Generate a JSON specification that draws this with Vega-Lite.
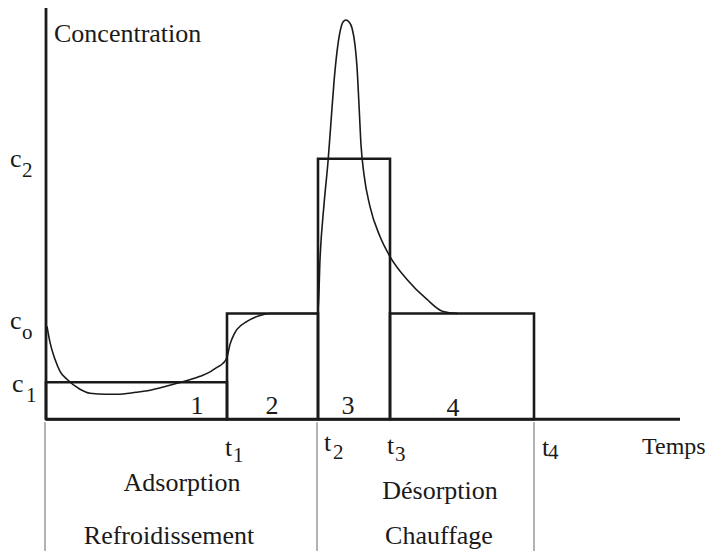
{
  "$schema": "https://vega.github.io/schema/vega-lite/v6.json",
  "width": 707,
  "height": 552,
  "autosize": {"type": "fit", "contains": "padding"},
  "padding": 0,
  "background": "white",
  "config": {"view": {"stroke": null}},
  "datasets": {
    "segments": [
      {"t": 0, "c": 0, "tEnd": 0, "cEnd": 412, "kind": "axis"},
      {"t": 0, "c": 0, "tEnd": 634, "cEnd": 0, "kind": "axis"},
      {"t": -1, "c": -3, "tEnd": -1, "cEnd": -132, "kind": "guide"},
      {"t": 271, "c": -3, "tEnd": 271, "cEnd": -132, "kind": "guide"},
      {"t": 488, "c": -3, "tEnd": 488, "cEnd": -132, "kind": "guide"}
    ],
    "steps": [
      {"t": 0, "tEnd": 181, "c": 37, "c0": 0},
      {"t": 181, "tEnd": 272, "c": 106, "c0": 0},
      {"t": 272, "tEnd": 344, "c": 261, "c0": 0},
      {"t": 344, "tEnd": 488, "c": 106, "c0": 0}
    ],
    "curve": [
      {"t": 1, "c": 93}, {"t": 4, "c": 77}, {"t": 9, "c": 60}, {"t": 14, "c": 48},
      {"t": 21, "c": 40}, {"t": 34, "c": 30}, {"t": 44, "c": 26}, {"t": 60, "c": 25},
      {"t": 71, "c": 25}, {"t": 90, "c": 27}, {"t": 104, "c": 29}, {"t": 120, "c": 33},
      {"t": 131, "c": 36}, {"t": 154, "c": 43}, {"t": 165, "c": 48}, {"t": 171, "c": 52},
      {"t": 177, "c": 56}, {"t": 181, "c": 62}, {"t": 184, "c": 75}, {"t": 188, "c": 85},
      {"t": 191, "c": 90}, {"t": 201, "c": 98}, {"t": 214, "c": 104}, {"t": 224, "c": 106},
      {"t": 250, "c": 106}, {"t": 272, "c": 106}, {"t": 274, "c": 160}, {"t": 278, "c": 215},
      {"t": 282, "c": 258}, {"t": 285, "c": 298}, {"t": 288, "c": 338}, {"t": 291, "c": 368},
      {"t": 294, "c": 388}, {"t": 297, "c": 398}, {"t": 300, "c": 400}, {"t": 303, "c": 398},
      {"t": 306, "c": 392}, {"t": 309, "c": 375}, {"t": 311, "c": 353}, {"t": 313, "c": 315},
      {"t": 315, "c": 275}, {"t": 318, "c": 245}, {"t": 324, "c": 213}, {"t": 334, "c": 183},
      {"t": 344, "c": 163}, {"t": 361, "c": 140}, {"t": 381, "c": 120}, {"t": 397, "c": 108},
      {"t": 412, "c": 106}
    ],
    "labels": [
      {"t": 8, "c": 378, "text": "Concentration", "kind": "mainL"},
      {"t": -36, "c": 253, "text": "c", "kind": "mainL"},
      {"t": -36, "c": 90, "text": "c", "kind": "mainL"},
      {"t": -34, "c": 27, "text": "c", "kind": "mainL"},
      {"t": 179, "c": -37, "text": "t", "kind": "mainL"},
      {"t": 278, "c": -32, "text": "t", "kind": "mainL"},
      {"t": 341, "c": -35, "text": "t", "kind": "mainL"},
      {"t": 496, "c": -37, "text": "t", "kind": "mainL"},
      {"t": 596, "c": -35, "text": "Temps", "kind": "temps"},
      {"t": -24, "c": 243, "text": "2", "kind": "sub"},
      {"t": -24, "c": 80, "text": "o", "kind": "sub"},
      {"t": -20, "c": 17, "text": "1", "kind": "sub"},
      {"t": 187, "c": -43, "text": "1", "kind": "sub"},
      {"t": 287, "c": -40, "text": "2", "kind": "sub"},
      {"t": 349, "c": -42, "text": "3", "kind": "sub"},
      {"t": 502, "c": -40, "text": "4", "kind": "sub"},
      {"t": 151, "c": 5, "text": "1", "kind": "mainC"},
      {"t": 226, "c": 5, "text": "2", "kind": "mainC"},
      {"t": 302, "c": 5, "text": "3", "kind": "mainC"},
      {"t": 407, "c": 3, "text": "4", "kind": "mainC"},
      {"t": 136, "c": -72, "text": "Adsorption", "kind": "mainC"},
      {"t": 123, "c": -125, "text": "Refroidissement", "kind": "mainC"},
      {"t": 394, "c": -80, "text": "Désorption", "kind": "mainC"},
      {"t": 393, "c": -125, "text": "Chauffage", "kind": "mainC"}
    ]
  },
  "layer": [
    {
      "data": {"name": "segments"},
      "transform": [{"filter": "datum.kind === 'guide'"}],
      "mark": {"type": "rule", "stroke": "#666", "strokeWidth": 1},
      "encoding": {
        "x": {"field": "t", "type": "quantitative", "scale": {"domain": [-46, 661], "nice": false, "zero": false}, "axis": null},
        "y": {"field": "c", "type": "quantitative", "scale": {"domain": [-132, 420], "nice": false, "zero": false}, "axis": null},
        "x2": {"field": "tEnd"},
        "y2": {"field": "cEnd"}
      }
    },
    {
      "data": {"name": "steps"},
      "mark": {"type": "rect", "fill": "transparent", "stroke": "#1a1a1a", "strokeWidth": 2.6},
      "encoding": {
        "x": {"field": "t", "type": "quantitative", "scale": {"domain": [-46, 661], "nice": false, "zero": false}, "axis": null},
        "x2": {"field": "tEnd"},
        "y": {"field": "c", "type": "quantitative", "scale": {"domain": [-132, 420], "nice": false, "zero": false}, "axis": null},
        "y2": {"field": "c0"}
      }
    },
    {
      "data": {"name": "segments"},
      "transform": [{"filter": "datum.kind === 'axis'"}],
      "mark": {"type": "rule", "stroke": "#1a1a1a", "strokeWidth": 2.8},
      "encoding": {
        "x": {"field": "t", "type": "quantitative", "scale": {"domain": [-46, 661], "nice": false, "zero": false}, "axis": null},
        "y": {"field": "c", "type": "quantitative", "scale": {"domain": [-132, 420], "nice": false, "zero": false}, "axis": null},
        "x2": {"field": "tEnd"},
        "y2": {"field": "cEnd"}
      }
    },
    {
      "data": {"name": "curve"},
      "mark": {"type": "line", "interpolate": "monotone", "stroke": "#1a1a1a", "strokeWidth": 1.6},
      "encoding": {
        "x": {"field": "t", "type": "quantitative", "scale": {"domain": [-46, 661], "nice": false, "zero": false}, "axis": null},
        "y": {"field": "c", "type": "quantitative", "scale": {"domain": [-132, 420], "nice": false, "zero": false}, "axis": null}
      }
    },
    {
      "data": {"name": "labels"},
      "transform": [{"filter": "datum.kind === 'mainL'"}],
      "mark": {"type": "text", "align": "left", "baseline": "alphabetic", "font": "Liberation Serif", "fontSize": 26, "color": "#1a1a1a"},
      "encoding": {
        "x": {"field": "t", "type": "quantitative", "scale": {"domain": [-46, 661], "nice": false, "zero": false}, "axis": null},
        "y": {"field": "c", "type": "quantitative", "scale": {"domain": [-132, 420], "nice": false, "zero": false}, "axis": null},
        "text": {"field": "text"}
      }
    },
    {
      "data": {"name": "labels"},
      "transform": [{"filter": "datum.kind === 'temps'"}],
      "mark": {"type": "text", "align": "left", "baseline": "alphabetic", "font": "Liberation Serif", "fontSize": 24, "color": "#1a1a1a"},
      "encoding": {
        "x": {"field": "t", "type": "quantitative", "scale": {"domain": [-46, 661], "nice": false, "zero": false}, "axis": null},
        "y": {"field": "c", "type": "quantitative", "scale": {"domain": [-132, 420], "nice": false, "zero": false}, "axis": null},
        "text": {"field": "text"}
      }
    },
    {
      "data": {"name": "labels"},
      "transform": [{"filter": "datum.kind === 'sub'"}],
      "mark": {"type": "text", "align": "left", "baseline": "alphabetic", "font": "Liberation Serif", "fontSize": 21, "color": "#1a1a1a"},
      "encoding": {
        "x": {"field": "t", "type": "quantitative", "scale": {"domain": [-46, 661], "nice": false, "zero": false}, "axis": null},
        "y": {"field": "c", "type": "quantitative", "scale": {"domain": [-132, 420], "nice": false, "zero": false}, "axis": null},
        "text": {"field": "text"}
      }
    },
    {
      "data": {"name": "labels"},
      "transform": [{"filter": "datum.kind === 'mainC'"}],
      "mark": {"type": "text", "align": "center", "baseline": "alphabetic", "font": "Liberation Serif", "fontSize": 26, "color": "#1a1a1a"},
      "encoding": {
        "x": {"field": "t", "type": "quantitative", "scale": {"domain": [-46, 661], "nice": false, "zero": false}, "axis": null},
        "y": {"field": "c", "type": "quantitative", "scale": {"domain": [-132, 420], "nice": false, "zero": false}, "axis": null},
        "text": {"field": "text"}
      }
    }
  ]
}
